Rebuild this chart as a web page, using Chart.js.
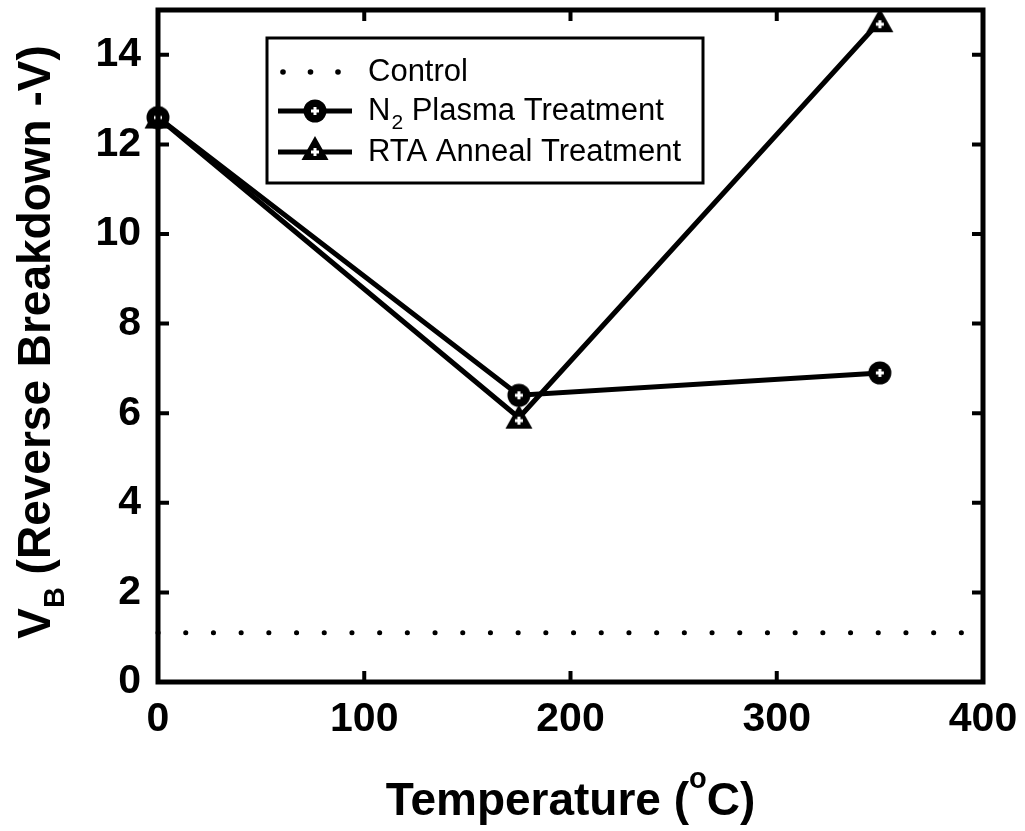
<!DOCTYPE html>
<html>
<head>
<meta charset="utf-8">
<title>Reverse breakdown vs temperature</title>
<script src="https://cdn.jsdelivr.net/npm/chart.js@4.4.1/dist/chart.umd.min.js"></script>
<style>
  html, body { margin: 0; padding: 0; background: #fff; }
  canvas { display: block; }
</style>
</head>
<body>
<canvas id="chart" width="1025" height="831"></canvas>
<script>
// temperatures (deg C) and breakdown voltages (V)
var temps = [0, 175, 350];
var n2Plasma = [12.6, 6.4, 6.9];
var rtaAnneal = [12.6, 5.9, 14.75];
var controlTemps = [0, 390];
var control = [1.1, 1.1];

var xTicks = [0, 100, 200, 300, 400];
var yTicks = [0, 2, 4, 6, 8, 10, 12, 14];

var FONT = "'Liberation Sans', Arial, Helvetica, sans-serif";

var toPoints = function( xs, ys ){
	var list = [];
	for( var i=0; i<xs.length; i++ ){
		list.push({ x : xs[i], y : ys[i] });
	}
	return list;
};

// black marker with a small white cross in the middle
var makeMarker = function( shape ){
	var c = document.createElement("canvas");
	c.width = 30; c.height = 30;
	var g = c.getContext("2d");
	g.fillStyle = "#000";
	g.beginPath();
	if( shape == "circle" ){
		g.arc(15, 15, 11.5, 0, Math.PI*2);
	}else{
		g.moveTo(15, 2);
		g.lineTo(28.5, 26);
		g.lineTo(1.5, 26);
		g.closePath();
	}
	g.fill();
	var cy = ( shape == "circle" ) ? 15 : 18;
	g.fillStyle = "#fff";
	g.fillRect(11, cy-1.5, 8, 3);
	g.fillRect(13.5, cy-4, 3, 8);
	return c;
};
var circleMark = makeMarker("circle");
var triMark = makeMarker("triangle");

// draws text pieces in a row; each piece is [text, font, dy]
var drawPieces = function( ctx, pieces, x, y ){
	var i, w = 0;
	for( i=0; i<pieces.length; i++ ){
		ctx.font = pieces[i][1];
		w += ctx.measureText(pieces[i][0]).width;
	}
	var cx = x - w/2;
	for( i=0; i<pieces.length; i++ ){
		ctx.font = pieces[i][1];
		ctx.fillText(pieces[i][0], cx, y + pieces[i][2]);
		cx += ctx.measureText(pieces[i][0]).width;
	}
};

// frame, inward ticks on all four sides, axis titles and legend box
var decorPlugin = {
	id : "decor",
	afterDraw : function( chart ){
		var ctx = chart.ctx, a = chart.chartArea;
		var xs = chart.scales.x, ys = chart.scales.y;
		var i, p, TL = 11;
		ctx.save();
		ctx.strokeStyle = "#000";
		ctx.lineWidth = 4;
		ctx.lineCap = "butt";
		for( i=1; i<xTicks.length-1; i++ ){
			p = xs.getPixelForValue(xTicks[i]);
			ctx.beginPath();
			ctx.moveTo(p, a.bottom); ctx.lineTo(p, a.bottom - TL);
			ctx.moveTo(p, a.top); ctx.lineTo(p, a.top + TL);
			ctx.stroke();
		}
		for( i=1; i<yTicks.length; i++ ){
			p = ys.getPixelForValue(yTicks[i]);
			ctx.beginPath();
			ctx.moveTo(a.left, p); ctx.lineTo(a.left + TL, p);
			ctx.moveTo(a.right, p); ctx.lineTo(a.right - TL, p);
			ctx.stroke();
		}
		ctx.lineWidth = 5;
		ctx.strokeRect(a.left, a.top, a.right - a.left, a.bottom - a.top);

		// axis titles
		ctx.fillStyle = "#000";
		ctx.textBaseline = "alphabetic";
		ctx.textAlign = "left";
		var big = "bold 46px " + FONT, small = "bold 29px " + FONT;
		drawPieces(ctx, [
			["Temperature (", big, 0],
			["o", small, -27],
			["C)", big, 0]
		], (a.left + a.right)/2, 815);

		ctx.save();
		ctx.translate(50, 342);
		ctx.rotate(-Math.PI/2);
		drawPieces(ctx, [
			["V", big, 0],
			["B", small, 14],
			[" (Reverse Breakdown -V)", big, 0]
		], 0, 0);
		ctx.restore();

		// legend
		ctx.lineWidth = 3;
		ctx.strokeRect(267, 38, 436, 145);
		var rows = [72, 111, 152];
		ctx.fillStyle = "#000";
		for( i=0; i<3; i++ ){
			ctx.beginPath();
			ctx.arc(283 + i*27.5, rows[0], 2.8, 0, Math.PI*2);
			ctx.fill();
		}
		ctx.lineWidth = 5;
		ctx.beginPath();
		ctx.moveTo(278, rows[1]); ctx.lineTo(352, rows[1]);
		ctx.moveTo(278, rows[2]); ctx.lineTo(352, rows[2]);
		ctx.stroke();
		ctx.drawImage(circleMark, 315 - 15, rows[1] - 15);
		ctx.drawImage(triMark, 315 - 15, rows[2] - 18);

		var lf = "31px " + FONT, lfs = "21px " + FONT;
		var tx = 368;
		ctx.textBaseline = "middle";
		ctx.font = lf;
		ctx.fillText("Control", tx, rows[0]);
		ctx.fillText("N", tx, rows[1]);
		var nw = ctx.measureText("N").width;
		ctx.font = lfs;
		ctx.fillText("2", tx + nw + 1, rows[1] + 12);
		var sw = ctx.measureText("2").width;
		ctx.font = lf;
		ctx.fillText(" Plasma Treatment", tx + nw + sw + 1, rows[1]);
		ctx.fillText("RTA Anneal Treatment", tx, rows[2]);
		ctx.restore();
	}
};

var chart = new Chart(document.getElementById("chart"), {
	type : "scatter",
	data : {
		datasets : [
			{
				label : "Control",
				data : toPoints(controlTemps, control),
				showLine : true,
				borderColor : "#000",
				borderWidth : 5,
				borderCapStyle : "round",
				borderDash : [0.1, 27.6],
				pointRadius : 0
			},
			{
				label : "N2 Plasma Treatment",
				data : toPoints(temps, n2Plasma),
				showLine : true,
				borderColor : "#000",
				borderWidth : 5,
				pointStyle : circleMark,
				pointRadius : 12
			},
			{
				label : "RTA Anneal Treatment",
				data : toPoints(temps, rtaAnneal),
				showLine : true,
				borderColor : "#000",
				borderWidth : 5,
				pointStyle : triMark,
				pointRadius : 12
			}
		]
	},
	options : {
		responsive : false,
		animation : false,
		clip : false,
		layout : { autoPadding : false, padding : { top : 10, right : 42, left : 0, bottom : 0 } },
		plugins : {
			legend : { display : false },
			tooltip : { enabled : false }
		},
		scales : {
			x : {
				type : "linear",
				min : 0, max : 400,
				afterBuildTicks : function( s ){ s.ticks = xTicks.map(function(v){ return { value : v }; }); },
				afterFit : function( s ){ s.height = 149; s.paddingLeft = 0; s.paddingRight = 0; },
				grid : { display : false, drawTicks : false },
				border : { display : false },
				ticks : { color : "#000", padding : 13, maxRotation : 0, font : { family : FONT, size : 41, weight : "bold" } }
			},
			y : {
				type : "linear",
				min : 0, max : 15,
				afterBuildTicks : function( s ){ s.ticks = yTicks.map(function(v){ return { value : v }; }); },
				afterFit : function( s ){ s.width = 158; s.paddingTop = 0; s.paddingBottom = 0; },
				grid : { display : false, drawTicks : false },
				border : { display : false },
				ticks : { color : "#000", padding : 17, font : { family : FONT, size : 41, weight : "bold" } }
			}
		}
	},
	plugins : [ decorPlugin ]
});
</script>
</body>
</html>
